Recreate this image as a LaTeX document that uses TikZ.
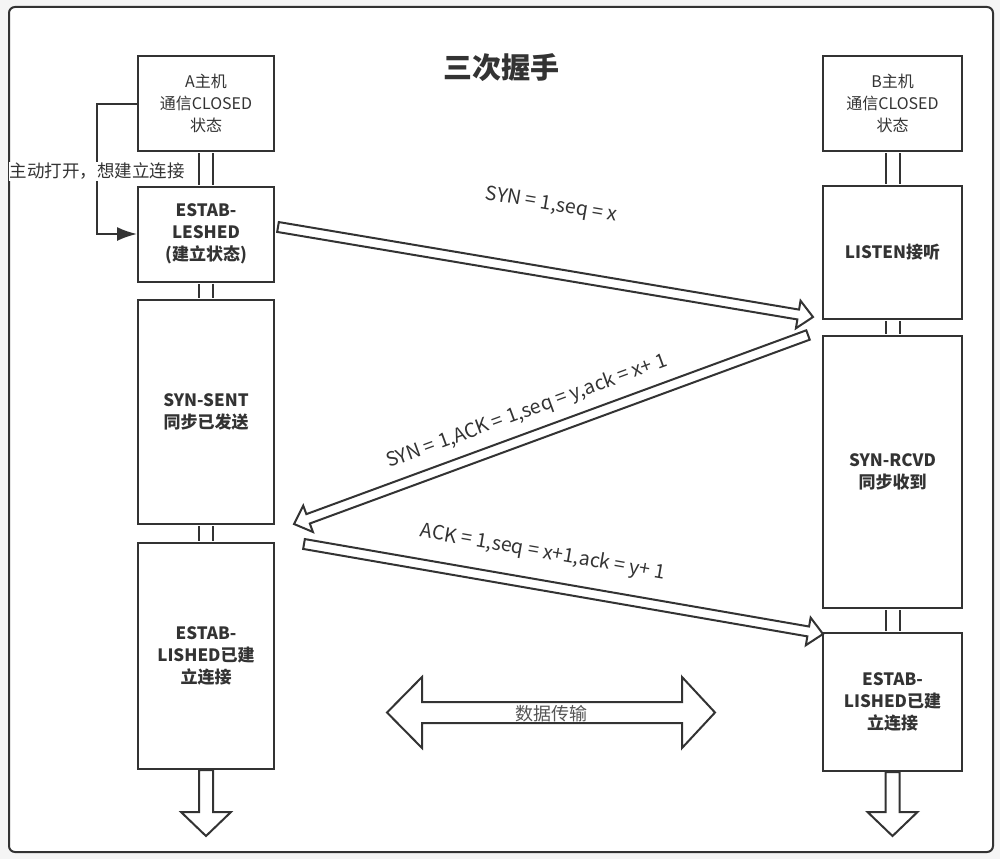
\documentclass[tikz,border=0pt]{standalone}
\usepackage{fontspec}
\setmainfont{Noto Sans CJK SC}
\usetikzlibrary{calc,arrows.meta}
\definecolor{ink}{RGB}{51,51,51}
\definecolor{paper}{RGB}{245,245,245}
\definecolor{soft}{RGB}{85,85,85}
\tikzset{
  box/.style={draw=ink, line width=2pt, fill=white, minimum width=136, minimum height=#1,
    align=center, text=ink, inner sep=2pt, font=\fontsize{16}{22}\selectfont},
  wide/.style={minimum width=139},
  bold/.style={font=\fontsize{17}{22}\selectfont\bfseries},
  link/.style={draw=ink, line width=2pt, double=white, double distance=12pt, shorten <=1pt, shorten >=1pt},
  hollow/.style={draw=ink, line width=2pt, fill=white, line join=miter},
  flow/.style={draw=ink, line width=2pt, -{Latex[length=20pt,width=14pt]}},
  note/.style={fill=white, text=ink, inner sep=1pt, font=\fontsize{17.5}{20}\selectfont},
  msg/.style={sloped, text=ink, inner sep=0pt, font=\fontsize{19.5}{22}\selectfont},
  title/.style={text=ink, font=\fontsize{29}{32}\selectfont\bfseries},
  data/.style={text=soft, inner sep=0pt, font=\fontsize{18}{20}\selectfont}
}
% tail, tip, half shaft, half head, head length
\newcommand\hollowarrow[5]{%
  \coordinate (ha-b) at ($(#2)!#5!(#1)$);
  \draw[hollow] ($(#1)!#3!90:(#2)$) -- ($(ha-b)!#3!90:(#2)$) -- ($(ha-b)!#4!90:(#2)$) -- (#2)
    -- ($(ha-b)!#4!-90:(#2)$) -- ($(ha-b)!#3!-90:(#2)$) -- ($(#1)!#3!-90:(#2)$) -- cycle;}
\begin{document}
\begin{tikzpicture}[x=1pt,y=-1pt]
%paper
\fill[paper] (0,0) rectangle (1000,859);
\draw[ink, line width=2pt, fill=white, rounded corners=6pt] (9,7) rectangle (993,852);
\useasboundingbox (0,0) rectangle (1000,859);
\node[title] (title) at (501,68) {三次握手};
%host A
\node[box=95] (hostA) at (206,103.5) {A主机\\通信CLOSED\\状态};
\node[box=95, bold] (estA) at (206,234) {ESTAB-\\LESHED\\(建立状态)};
\node[box=224, bold] (sent) at (206,412) {SYN-SENT\\同步已发送};
\node[box=226, bold] (doneA) at (206,656) {ESTAB-\\LISHED已建\\立连接};
%host B
\node[box=95, wide] (hostB) at (892.5,103.5) {B主机\\通信CLOSED\\状态};
\node[box=133, wide, bold] (listen) at (892.5,252.5) {LISTEN接听};
\node[box=272, wide, bold] (rcvd) at (892.5,472) {SYN-RCVD\\同步收到};
\node[box=138, wide, bold] (doneB) at (892.5,702) {ESTAB-\\LISHED已建\\立连接};
%links
\foreach \a/\b in {hostA/estA, estA/sent, sent/doneA, hostB/listen, listen/rcvd, rcvd/doneB}
  \draw[link] (\a) -- (\b);
%open
\draw[flow] (hostA.west) -- ++(-40,0) |- node[pos=0.26, note] (open) {主动打开，想建立连接} (estA.west);
%messages
\coordinate (syn-from) at ($(estA.east)+(3,-7)$);
\coordinate (syn-to) at ($(listen.south west)+(-9,-3)$);
\coordinate (synack-from) at ($(rcvd.north west)+(-14,0)$);
\coordinate (synack-to) at ($(sent.south east)+(19,-1)$);
\coordinate (ack-from) at ($(doneA.north east)+(29,2)$);
\coordinate (ack-to) at ($(doneB.north west)+(1,2)$);
\hollowarrow{syn-from}{syn-to}{5pt}{14pt}{15pt}
\hollowarrow{synack-from}{synack-to}{5pt}{14pt}{15pt}
\hollowarrow{ack-from}{ack-to}{5pt}{14pt}{15pt}
\path (syn-from) -- node[msg, pos=0.49, above=57pt] (syn) {SYN = 1,seq = x} (syn-to);
\path (synack-from) -- node[msg, pos=0.53, above=15pt] (synack) {SYN = 1,ACK = 1,seq = y,ack = x+ 1} (synack-to);
\path (ack-from) -- node[msg, pos=0.45, above=22pt] (ack) {ACK = 1,seq = x+1,ack = y+ 1} (ack-to);
%going on
\coordinate (endA) at (206,836);
\coordinate (endB) at (892.5,836);
\hollowarrow{doneA.south}{endA}{7pt}{25pt}{24pt}
\hollowarrow{doneB.south}{endB}{7pt}{25pt}{24pt}
%data
\draw[hollow] (387,712.5) -- (422,677) -- (422,702) -- (682,702) -- (682,677) -- (715,712.5)
  -- (682,748) -- (682,723) -- (422,723) -- (422,748) -- cycle;
\node[data] (data) at (551,714) {数据传输};
\end{tikzpicture}
\end{document}
